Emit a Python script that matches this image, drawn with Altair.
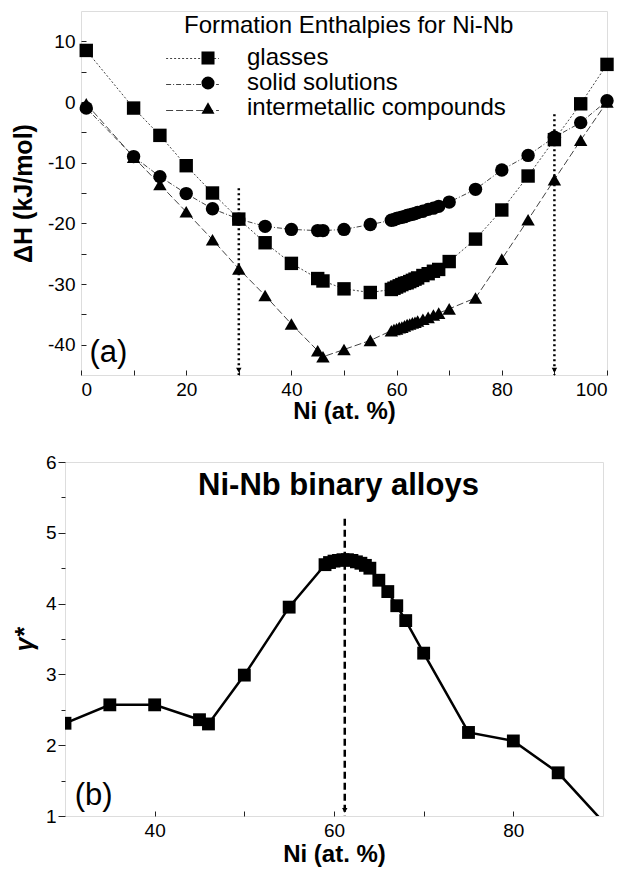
import altair as alt
import pandas as pd

FONT = "Liberation Sans"

# ---------------- panel (a) data ----------------
series_names = ["glasses", "solid solutions", "intermetallic compounds"]

glasses_x = [1, 10, 15, 20, 25, 30, 35, 40, 45, 46, 50, 55, 59, 59.5, 60, 60.5, 61, 61.5, 62, 62.5,
             63, 63.5, 64, 65, 66, 67, 68, 70, 75, 80, 85, 90, 95, 100]
glasses_y = [8.5, -1.0, -5.5, -10.5, -15.0, -19.3, -23.2, -26.6, -29.1, -29.5, -30.8, -31.4, -30.9, -30.7,
             -30.5, -30.3, -30.1, -29.9, -29.8, -29.6, -29.4, -29.2, -29.0, -28.6, -28.3, -27.9, -27.6,
             -26.3, -22.6, -17.8, -12.2, -6.2, -0.3, 6.2]

ss_x = [1, 10, 15, 20, 25, 30, 35, 40, 45, 46, 50, 55, 59, 59.5, 60, 60.5, 61, 61.5, 62, 62.5,
        63, 63.5, 64, 65, 66, 67, 68, 70, 75, 80, 85, 90, 95, 100]
ss_y = [-1.0, -9.0, -12.3, -15.1, -17.6, -19.3, -20.5, -21.0, -21.2, -21.2, -21.0, -20.2, -19.5, -19.4,
        -19.2, -19.1, -19.0, -18.9, -18.7, -18.6, -18.5, -18.4, -18.2, -18.0, -17.7, -17.5, -17.2,
        -16.5, -14.4, -11.2, -8.8, -5.8, -3.4, 0.2]

im_x = [1, 10, 15, 20, 25, 30, 35, 40, 45, 46, 50, 55, 59, 59.5, 60, 60.5, 61, 61.5, 62, 62.5,
        63, 63.5, 64, 65, 66, 67, 68, 70, 75, 80, 85, 90, 95, 100]
im_y = [-0.3, -9.1, -13.6, -18.1, -22.7, -27.5, -31.9, -36.6, -41.0, -42.0, -40.8, -39.3, -37.7, -37.5,
        -37.4, -37.2, -37.1, -36.9, -36.7, -36.6, -36.4, -36.3, -36.1, -35.8, -35.5, -35.1, -34.8,
        -34.1, -32.3, -25.9, -19.4, -12.8, -6.3, 0.0]

arrow_a_x = [30, 90]
arrow_a_top = [-14.2, -2.0]
arrow_a_bottom = [-45, -45]
arrow_a_head = [-44.2, -44.2]

label_a = ["(a)"]
label_a_x = [5.2]
label_a_y = [-41.3]

# ---------------- panel (b) data ----------------
gamma_x = [30, 35, 40, 45, 46, 50, 55, 59, 59.5, 60, 60.5, 61, 61.5, 62, 62.5, 63, 63.5, 64,
           65, 66, 67, 68, 70, 75, 80, 85, 90]
gamma_y = [2.31, 2.57, 2.57, 2.36, 2.30, 2.99, 3.95, 4.55, 4.58, 4.60, 4.61, 4.62, 4.62, 4.61, 4.59,
           4.57, 4.54, 4.50, 4.33, 4.17, 3.97, 3.76, 3.30, 2.18, 2.06, 1.61, 0.92]

arrow_b_x = [61.2]
arrow_b_top = [5.2]
arrow_b_bottom = [1.0]
arrow_b_head = [1.08]

label_b = ["(b)"]
label_b_x = [33.2]
label_b_y = [1.28]

title_b = ["Ni-Nb binary alloys"]
title_b_x = [60.5]
title_b_y = [5.66]

# ---------------- tables ----------------
rows = []
for name, xs, ys in [(series_names[0], glasses_x, glasses_y),
                     (series_names[1], ss_x, ss_y),
                     (series_names[2], im_x, im_y)]:
    for xv, yv in zip(xs, ys):
        rows.append({"x": xv, "y": yv, "series": name, "style": name})
df_a = pd.DataFrame(rows)
df_arrow_a = pd.DataFrame({"x": arrow_a_x, "y": arrow_a_top, "y2": arrow_a_bottom, "yh": arrow_a_head})
df_label_a = pd.DataFrame({"x": label_a_x, "y": label_a_y, "t": label_a})

df_b = pd.DataFrame({"x": gamma_x, "y": gamma_y})
df_arrow_b = pd.DataFrame({"x": arrow_b_x, "y": arrow_b_top, "y2": arrow_b_bottom, "yh": arrow_b_head})
df_label_b = pd.DataFrame({"x": label_b_x + title_b_x, "y": label_b_y + title_b_y,
                           "t": label_b + title_b, "kind": ["label", "title"]})

# ---------------- panel (a) ----------------
xa_scale = alt.Scale(domain=[0, 100], nice=False, zero=False)
ya_scale = alt.Scale(domain=[-45, 15], nice=False, zero=False)

xa_axis = alt.Axis(values=list(range(0, 101, 10)),
                   labelExpr="datum.value % 20 == 0 ? '' + datum.value : ''",
                   tickSize=5, offset=-5, domain=False, grid=False, tickColor="#222",
                   labelFont=FONT, labelFontSize=19, labelColor="black", labelPadding=5,
                   title="Ni (at. %)", titleFont=FONT, titleFontSize=24, titleFontWeight="bold",
                   titleColor="black", titlePadding=0)
ya_axis = alt.Axis(values=list(range(-40, 11, 5)),
                   labelExpr="datum.value % 10 == 0 ? '' + datum.value : ''",
                   tickSize=5, offset=-5, domain=False, grid=False, tickColor="#222",
                   labelFont=FONT, labelFontSize=19, labelColor="black", labelPadding=6,
                   title="ΔH (kJ/mol)", titleFont=FONT, titleFontSize=25, titleFontWeight="bold",
                   titleColor="black", titlePadding=11)

xa = alt.X("x:Q", scale=xa_scale, axis=xa_axis)
ya = alt.Y("y:Q", scale=ya_scale, axis=ya_axis)

lines_a = alt.Chart(df_a).mark_line(color="#444", strokeWidth=1).encode(
    x=xa, y=ya, detail="series:N",
    strokeDash=alt.StrokeDash(
        "style:N",
        scale=alt.Scale(domain=series_names, range=[[2, 2], [5, 2, 1, 2], [7, 3]]),
        legend=alt.Legend(title=None, orient="none", legendX=85, legendY=35, padding=0,
                          symbolType="M-2.2,0H2.2", symbolSize=576, symbolOffset=14,
                          symbolStrokeWidth=1, symbolStrokeColor="#444",
                          labelFont=FONT, labelFontSize=24, labelExpr="''", rowPadding=1)),
    order="x:Q")

points_a = alt.Chart(df_a).mark_point(filled=True, color="black", opacity=1, size=180).encode(
    x=xa, y=ya,
    shape=alt.Shape(
        "series:N",
        scale=alt.Scale(domain=series_names, range=["square", "circle", "triangle-up"]),
        legend=alt.Legend(title="Formation Enthalpies for Ni-Nb", orient="none", legendX=103, legendY=3,
                          padding=0, titleFont=FONT, titleFontSize=24, titleFontWeight="normal",
                          titleColor="black", titlePadding=8, titleLimit=600,
                          labelFont=FONT, labelFontSize=24, labelColor="black", labelLimit=600,
                          symbolSize=170, symbolOffset=12, labelOffset=27, rowPadding=1,
                          symbolFillColor="black", symbolStrokeColor="black", symbolOpacity=1)))

rule_a = alt.Chart(df_arrow_a).mark_rule(color="black", strokeWidth=2.5, strokeDash=[2, 3]).encode(
    x=xa, y=ya, y2="y2:Q")
head_a = alt.Chart(df_arrow_a).mark_point(shape="triangle-down", filled=True, color="black",
                                          size=30, opacity=1).encode(
    x=xa, y=alt.Y("yh:Q", scale=ya_scale, axis=ya_axis))
text_a = alt.Chart(df_label_a).mark_text(font=FONT, fontSize=31, color="black").encode(
    x=xa, y=ya, text="t:N")

panel_a = alt.layer(lines_a, points_a, rule_a, head_a, text_a).resolve_legend(
    shape="independent", strokeDash="independent").properties(width=526, height=364)

# ---------------- panel (b) ----------------
xb_scale = alt.Scale(domain=[30, 90], nice=False, zero=False)
yb_scale = alt.Scale(domain=[1, 6], nice=False, zero=False)

xb_axis = alt.Axis(values=list(range(40, 81, 10)),
                   labelExpr="(datum.value == 40 || datum.value == 60 || datum.value == 80) ? '' + datum.value : ''",
                   tickSize=5, offset=-5, domain=False, grid=False, tickColor="#222",
                   labelFont=FONT, labelFontSize=19, labelColor="black", labelPadding=5,
                   title="Ni (at. %)", titleFont=FONT, titleFontSize=24, titleFontWeight="bold",
                   titleColor="black", titlePadding=2)
yb_axis = alt.Axis(values=[1, 1.5, 2, 2.5, 3, 3.5, 4, 4.5, 5, 5.5, 6],
                   labelExpr="datum.value % 1 == 0 ? '' + datum.value : ''",
                   tickSize={"condition": {"test": "datum.value % 1 == 0", "value": 7}, "value": 4},
                   domain=False, grid=False, tickColor="#222",
                   labelFont=FONT, labelFontSize=19, labelColor="black", labelPadding=2,
                   title="γ*", titleFont=FONT, titleFontSize=25, titleFontWeight="bold",
                   titleFontStyle="italic", titleColor="black", titlePadding=8)

xb = alt.X("x:Q", scale=xb_scale, axis=xb_axis)
yb = alt.Y("y:Q", scale=yb_scale, axis=yb_axis)

line_b = alt.Chart(df_b).mark_line(color="black", strokeWidth=2.5, clip=True).encode(
    x=xb, y=yb, order="x:Q")
points_b = alt.Chart(df_b).transform_filter("datum.y >= 1").mark_point(
    shape="square", filled=True, color="black", opacity=1, size=165, clip=True).encode(x=xb, y=yb)
rule_b = alt.Chart(df_arrow_b).mark_rule(color="black", strokeWidth=2.5, strokeDash=[7, 4]).encode(
    x=xb, y=yb, y2="y2:Q")
head_b = alt.Chart(df_arrow_b).mark_point(shape="triangle-down", filled=True, color="black",
                                          size=30, opacity=1).encode(
    x=xb, y=alt.Y("yh:Q", scale=yb_scale, axis=yb_axis))
text_b1 = alt.Chart(df_label_b).transform_filter("datum.kind == 'label'").mark_text(
    font=FONT, fontSize=31, color="black").encode(x=xb, y=yb, text="t:N")
text_b2 = alt.Chart(df_label_b).transform_filter("datum.kind == 'title'").mark_text(
    font=FONT, fontSize=31, fontWeight="bold", color="black").encode(x=xb, y=yb, text="t:N")

panel_b = alt.layer(line_b, points_b, rule_b, head_b, text_b1, text_b2).properties(width=538, height=354)


def spacer():
    return alt.Chart(pd.DataFrame({"v": [0]})).mark_point(opacity=0, size=0, strokeWidth=0).encode(
        x=alt.value(0), y=alt.value(0)).properties(width=1, height=1, view={"stroke": "transparent"})


chart = alt.vconcat(
    alt.hconcat(spacer(), panel_a, spacing=0),
    alt.hconcat(spacer(), panel_b, spacing=0),
    spacing=28,
).properties(
    padding={"top": 2, "left": 0, "right": 0, "bottom": 0}
).configure_view(stroke="#222", strokeWidth=1.5).configure(background="white")

chart.save("out.html", embed_options={"renderer": "svg", "actions": False})
